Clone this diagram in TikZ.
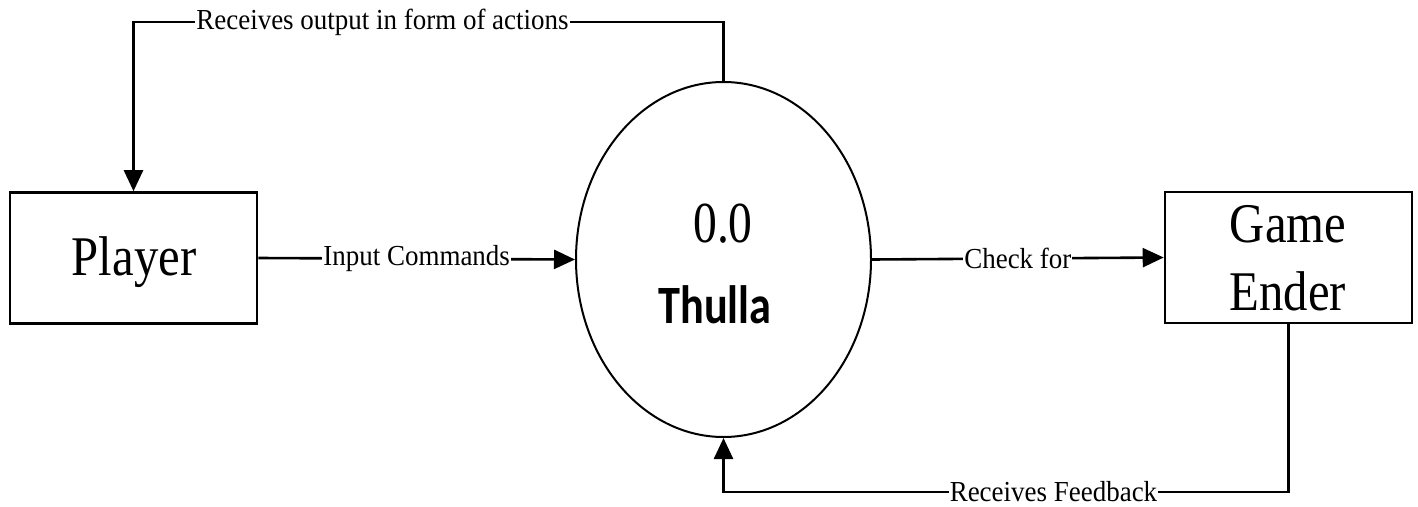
\documentclass[tikz,border=0pt]{standalone}
\usepackage{fontspec}
\setmainfont{Liberation Serif}
\newfontfamily\procfont{Carlito}
\usetikzlibrary{arrows.meta,shapes.geometric}

\tikzset{
  entity/.style={draw, line width=2.6pt, minimum width=247pt, minimum height=131pt, inner sep=0pt},
  process/.style={draw, ellipse, line width=2pt, minimum width=295pt, minimum height=355pt, inner sep=0pt},
  flow/.style={line width=2.6pt, -{Triangle[length=21pt, width=19pt]}},
  lbl/.style={fill=white, inner xsep=1pt, inner ysep=0pt, font=\fontsize{29}{32}\selectfont},
  bigtxt/.style={font=\fontsize{56}{60}\selectfont, inner sep=0pt, anchor=base},
}
\newcommand{\narrow}[1]{\scalebox{0.93}[1]{#1}}

\begin{document}
\begin{tikzpicture}[x=1pt, y=-1pt]
  \useasboundingbox (0,0) rectangle (1418,506);

  % external entities and the central process
  \node[entity] (player) at (133.5,258) {};
  \node[entity] (ender) at (1288.5,257.5) {};
  \node[process] (proc) at (723.5,259.5) {};

  % texts inside the shapes
  \node[bigtxt] (playertxt) at (134,275) {\scalebox{0.87}[1]{Player}};
  \node[bigtxt] (gametxt) at (1288,242) {\scalebox{0.87}[1]{Game}};
  \node[bigtxt] (endertxt) at (1288,310) {\scalebox{0.87}[1]{Ender}};
  \node[bigtxt, font=\fontsize{58}{60}\selectfont] (numtxt) at (723,242) {\scalebox{0.82}[1]{0.0}};
  \node[bigtxt, font=\procfont\bfseries\fontsize{54}{58}\selectfont] (proctxt) at (715,323) {\scalebox{0.82}[1]{Thulla}};

  % bend points of the loops
  \coordinate (topR) at (723.5,22);
  \coordinate (topL) at (133.5,22);
  \coordinate (botR) at (1288.5,492);
  \coordinate (botL) at (723.5,492);

  % data flows
  \draw[flow] (proc.north) -- (topR) -- node[lbl, pos=0.578] (l1) {\narrow{Receives output in form of actions}} (topL) -- (player.north);
  \draw[flow] (player.east) -- node[lbl] (l2) {\narrow{Input Commands}} (proc.west);
  \draw[flow] (proc.east) -- node[lbl] (l3) {\narrow{Check for}} (ender.west);
  \draw[flow] (ender.south) -- (botR) -- node[lbl, pos=0.416] (l4) {\narrow{Receives Feedback}} (botL) -- (proc.south);
\end{tikzpicture}
\end{document}
